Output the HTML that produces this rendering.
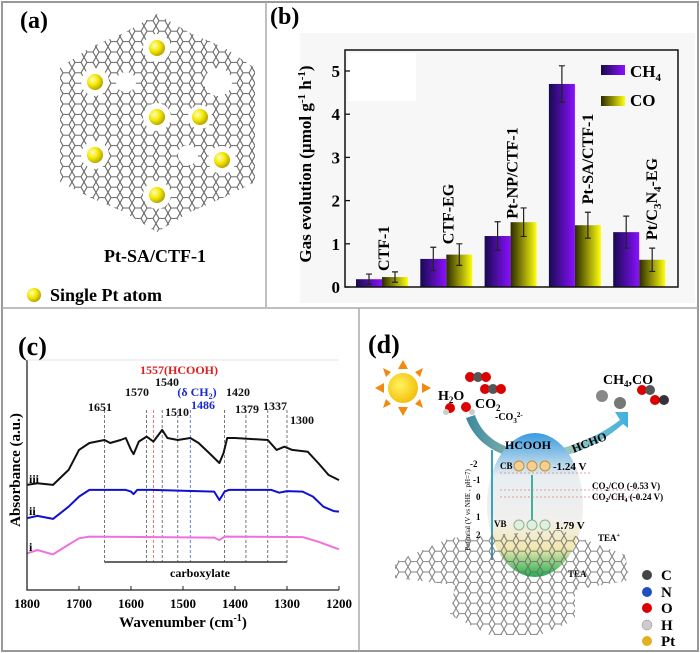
<!DOCTYPE html>
<html><head><meta charset="utf-8">
<style>
body{margin:0;background:#fff;}
svg{display:block;font-family:"Liberation Serif",serif;}
</style></head>
<body>
<svg id="fig" width="700" height="653" viewBox="0 0 700 653">
<defs>
  <pattern id="hexpat" width="12" height="10.4" patternUnits="userSpaceOnUse">
    <path d="M3,0 L9,0 L12,5.2 L9,10.4 L3,10.4 L0,5.2 Z" fill="none" stroke="#666" stroke-width="1.1"/>
  </pattern>
  <radialGradient id="ptball" cx="0.35" cy="0.35" r="0.7">
    <stop offset="0" stop-color="#ffffc0"/><stop offset="0.5" stop-color="#f5e800"/><stop offset="1" stop-color="#b0a000"/>
  </radialGradient>
  <linearGradient id="gCH4" x1="0" x2="1" y1="0" y2="0">
    <stop offset="0" stop-color="#160a50"/><stop offset="1" stop-color="#8a10ff"/>
  </linearGradient>
  <linearGradient id="gCO" x1="0" x2="1" y1="0" y2="0">
    <stop offset="0" stop-color="#2a2a00"/><stop offset="1" stop-color="#ffff10"/>
  </linearGradient>
  <linearGradient id="gEll" x1="0" x2="0" y1="0" y2="1">
    <stop offset="0" stop-color="#3a9be0"/><stop offset="0.3" stop-color="#e8eef0"/><stop offset="0.6" stop-color="#f0f0ee"/><stop offset="0.8" stop-color="#f3e8b0"/><stop offset="1" stop-color="#20b050"/>
  </linearGradient>
  <linearGradient id="gArrow" x1="0" x2="1"><stop offset="0" stop-color="#3a88a0"/><stop offset="0.5" stop-color="#b8d0b0"/><stop offset="1" stop-color="#40b0e0"/></linearGradient>
  <radialGradient id="sunG" cx="0.4" cy="0.4" r="0.7"><stop offset="0" stop-color="#fff460"/><stop offset="1" stop-color="#f2b800"/></radialGradient>
</defs>

<rect x="2" y="2" width="696" height="649" fill="none" stroke="#999" stroke-width="2"/>
<line x1="266" y1="2" x2="266" y2="307" stroke="#aaa" stroke-width="1.5"/>
<line x1="2" y1="308" x2="698" y2="308" stroke="#aaa" stroke-width="1.5"/>
<line x1="359" y1="308" x2="359" y2="651" stroke="#aaa" stroke-width="1.5"/>

<!-- PANEL A -->
<g>
  <text x="20" y="28" font-size="24" font-weight="bold">(a)</text>
  <polygon points="157,14 190,33 225,48 255,68 255,182 225,197 190,212 157,232 124,212 89,197 60,182 60,68 89,48 124,33" fill="url(#hexpat)"/>
  <g fill="#fff">
    <circle cx="157" cy="48" r="14"/><circle cx="95" cy="82" r="14"/><circle cx="218" cy="82" r="14"/>
    <circle cx="157" cy="117" r="14"/><circle cx="200" cy="117" r="12"/><circle cx="95" cy="155" r="14"/>
    <circle cx="222" cy="160" r="14"/><circle cx="157" cy="195" r="14"/><circle cx="126" cy="82" r="10"/><circle cx="188" cy="155" r="10"/>
    <polygon points="60,68 89,48 60,48"/><polygon points="255,68 225,48 255,48"/><polygon points="60,182 89,197 60,210"/><polygon points="255,182 225,197 255,210"/>
  </g>
  <g fill="url(#ptball)">
    <circle cx="157" cy="48" r="8"/><circle cx="95" cy="82" r="8"/><circle cx="157" cy="117" r="8"/>
    <circle cx="200" cy="117" r="8"/><circle cx="95" cy="155" r="8"/><circle cx="222" cy="160" r="8"/><circle cx="157" cy="195" r="8"/>
  </g>
  <text x="155" y="262" font-size="18" font-weight="bold" text-anchor="middle">Pt-SA/CTF-1</text>
  <circle cx="34" cy="295" r="7" fill="url(#ptball)"/>
  <text x="50" y="301" font-size="18" font-weight="bold">Single Pt atom</text>
</g>

<g id="panelB">
  <text x="270" y="24" font-size="24" font-weight="bold">(b)</text>
</g>

<g id="panelC">
  <text x="18" y="355" font-size="26" font-weight="bold">(c)</text>
</g>

<!-- PANEL D -->
<g>
  <text x="368" y="353" font-size="26" font-weight="bold">(d)</text>
  <g>
    <g fill="#f08a10">
      <polygon points="403,360 398,369 408,369"/><polygon points="403,416 398,407 408,407"/>
      <polygon points="375,388 384,383 384,393"/><polygon points="431,388 422,383 422,393"/>
      <polygon points="383,368 391,372 386,377"/><polygon points="423,368 415,372 420,377"/>
      <polygon points="383,408 391,404 386,399"/><polygon points="423,408 415,404 420,399"/>
    </g>
    <circle cx="403" cy="388" r="15" fill="url(#sunG)"/>
  </g>
  <g>
    <circle cx="470" cy="377" r="5" fill="#d00"/><circle cx="478" cy="377" r="5" fill="#555"/><circle cx="486" cy="377" r="5" fill="#d00"/>
    <circle cx="485" cy="389" r="5" fill="#d00"/><circle cx="493" cy="389" r="5" fill="#555"/><circle cx="501" cy="389" r="5" fill="#d00"/>
    <circle cx="450" cy="408" r="5" fill="#d00"/><circle cx="466" cy="407" r="5" fill="#d00"/><circle cx="446" cy="412" r="3" fill="#ccc"/><circle cx="472" cy="412" r="3" fill="#ccc"/>
  </g>
  <text x="438" y="400" font-size="14" font-weight="bold">H<tspan font-size="9" dy="3">2</tspan><tspan dy="-3">O</tspan></text>
  <text x="475" y="408" font-size="14" font-weight="bold">CO<tspan font-size="9" dy="3">2</tspan></text>
  <text x="603" y="384" font-size="14" font-weight="bold">CH<tspan font-size="9" dy="3">4</tspan><tspan dy="-3">,CO</tspan></text>
  <g>
    <circle cx="602" cy="396" r="6" fill="#888"/><circle cx="620" cy="403" r="6" fill="#777"/>
    <circle cx="642" cy="390" r="5" fill="#d00"/><circle cx="650" cy="390" r="5" fill="#555"/>
    <circle cx="655" cy="400" r="5" fill="#d00"/><circle cx="664" cy="400" r="5" fill="#333"/>
  </g>
  <path d="M475,415 C490,460 560,465 620,420 L615,412 L628,412 L628,428 L623,424 C565,475 485,470 466,418 Z" fill="url(#gArrow)"/>
  <text x="495" y="420" font-size="10" font-weight="bold">-CO<tspan font-size="7" dy="3">3</tspan><tspan font-size="7" dy="-6">2-</tspan></text>
  <ellipse cx="535" cy="505" rx="48" ry="72" fill="url(#gEll)"/>
  <text x="505" y="449" font-size="12" font-weight="bold">HCOOH</text>
  <text x="570" y="446" font-size="12" font-weight="bold" transform="rotate(-22 590 440)">HCHO</text>
  <line x1="492" y1="450" x2="492" y2="560" stroke="#40a0c0" stroke-width="2"/>
  <line x1="532" y1="475" x2="532" y2="520" stroke="#40b0a0" stroke-width="2"/>
  <g font-size="9" font-weight="bold">
    <text x="470" y="467">-2</text><text x="473" y="483">-1</text><text x="476" y="500">0</text><text x="476" y="520">1</text><text x="476" y="538">2</text>
  </g>
  <text x="470" y="510" font-size="7" transform="rotate(-90 470 510)" text-anchor="middle">Potential (V vs NHE , pH=7)</text>
  <text x="500" y="469" font-size="9" font-weight="bold">CB</text>
  <g fill="#f5d090" stroke="#c09040"><circle cx="519" cy="466" r="5"/><circle cx="532" cy="466" r="5"/><circle cx="545" cy="466" r="5"/></g>
  <text x="553" y="470" font-size="11" font-weight="bold">-1.24 V</text>
  <line x1="500" y1="473" x2="590" y2="473" stroke="#e08080" stroke-dasharray="2 2" stroke-width="0.8"/>
  <line x1="500" y1="490" x2="640" y2="490" stroke="#e08080" stroke-dasharray="2 2" stroke-width="0.8"/>
  <line x1="500" y1="497" x2="640" y2="497" stroke="#e08080" stroke-dasharray="2 2" stroke-width="0.8"/>
  <text x="592" y="489" font-size="9" font-weight="bold">CO<tspan font-size="6" dy="2">2</tspan><tspan dy="-2">/CO (-0.53  V)</tspan></text>
  <text x="592" y="500" font-size="9" font-weight="bold">CO<tspan font-size="6" dy="2">2</tspan><tspan dy="-2">/CH</tspan><tspan font-size="6" dy="2">4</tspan><tspan dy="-2"> (-0.24 V)</tspan></text>
  <text x="494" y="527" font-size="9" font-weight="bold">VB</text>
  <g fill="#e0f0e0" stroke="#90b090"><circle cx="519" cy="525" r="5"/><circle cx="532" cy="525" r="5"/><circle cx="545" cy="525" r="5"/></g>
  <text x="555" y="529" font-size="11" font-weight="bold">1.79 V</text>
  <text x="598" y="541" font-size="9" font-weight="bold">TEA<tspan font-size="6" dy="-4">+</tspan></text>
  <text x="568" y="577" font-size="9" font-weight="bold">TEA</text>
  <polygon points="395,562 450,538 560,530 625,555 630,580 575,590 575,620 540,635 490,635 450,615 455,585 395,578" fill="url(#hexpat)" opacity="0.8"/>
  <g font-size="15" font-weight="bold">
    <circle cx="647" cy="575" r="5" fill="#444"/><text x="661" y="580">C</text>
    <circle cx="647" cy="592" r="5" fill="#2050c0"/><text x="661" y="597">N</text>
    <circle cx="647" cy="608" r="5" fill="#d00"/><text x="661" y="613">O</text>
    <circle cx="647" cy="625" r="5" fill="#ccc" stroke="#888" stroke-width="0.5"/><text x="661" y="630">H</text>
    <circle cx="647" cy="641" r="5" fill="#e0b020"/><text x="661" y="646">Pt</text>
  </g>
</g>
</svg>

<script>
const bCategories = ["CTF-1", "CTF-EG", "Pt-NP/CTF-1", "Pt-SA/CTF-1", "Pt/C3N4-EG"];
const ch4Values = [0.18, 0.65, 1.18, 4.70, 1.27];
const coValues = [0.23, 0.75, 1.50, 1.43, 0.63];
const ch4Errors = [0.12, 0.27, 0.33, 0.42, 0.37];
const coErrors = [0.12, 0.25, 0.33, 0.30, 0.27];
const bTicks = [0, 1, 2, 3, 4, 5];

const irTicks = [1800, 1700, 1600, 1500, 1400, 1300, 1200];
const waveIII = [1800,1780,1750,1720,1700,1680,1651,1640,1620,1610,1600,1595,1585,1570,1557,1540,1530,1510,1486,1470,1450,1430,1422,1415,1400,1337,1320,1305,1290,1260,1240,1220,1200];
const absIII = [0.457,0.464,0.457,0.522,0.609,0.639,0.652,0.639,0.652,0.661,0.609,0.591,0.645,0.667,0.645,0.696,0.661,0.652,0.661,0.639,0.596,0.552,0.596,0.661,0.661,0.652,0.609,0.623,0.609,0.601,0.552,0.5,0.478];
const waveII = [1800,1780,1750,1720,1700,1680,1610,1600,1595,1588,1560,1440,1430,1420,1412,1330,1315,1300,1270,1250,1230,1210,1200];
const absII = [0.312,0.322,0.309,0.362,0.406,0.435,0.435,0.428,0.417,0.435,0.435,0.428,0.391,0.428,0.435,0.435,0.423,0.43,0.428,0.406,0.362,0.343,0.341];
const waveI = [1800,1780,1750,1730,1700,1680,1440,1430,1420,1270,1240,1200];
const absI = [0.159,0.174,0.155,0.183,0.225,0.232,0.228,0.217,0.232,0.23,0.21,0.177];
const peakWaves = [1651, 1570, 1557, 1540, 1510, 1486, 1420, 1379, 1337, 1300];
const peakLabels = ["1651", "1570", "", "1540", "1510", "1486", "1420", "1379", "1337", "1300"];

const NS = "http://www.w3.org/2000/svg";
function mk(parent, tag, attrs, text) {
  const e = document.createElementNS(NS, tag);
  for (const k in attrs) e.setAttribute(k, attrs[k]);
  if (text !== undefined) e.textContent = text;
  parent.appendChild(e);
  return e;
}

(function () {
  const g = document.getElementById("panelB");
  const X0 = 345, X1 = 678, Ytop = 50, Ybot = 287;
  const yS = v => Ybot - v * 43.2;
  const groupX = i => 356 + i * 64.3;
  const bw = 26;
  mk(g, "rect", { x: 300, y: 33, width: 395, height: 270, fill: "#f7f7f7" });
  mk(g, "rect", { x: 348, y: 53, width: 68, height: 48, fill: "#fff" });
  bCategories.forEach((c, i) => {
    const x = groupX(i);
    const r1 = mk(g, "rect", { x: x, y: yS(ch4Values[i]), width: bw, height: Ybot - yS(ch4Values[i]), fill: "url(#gCH4)" });
    
    
    const r2 = mk(g, "rect", { x: x + bw, y: yS(coValues[i]), width: bw, height: Ybot - yS(coValues[i]), fill: "url(#gCO)" });
    
    
    [[ch4Values[i], ch4Errors[i], x + bw / 2], [coValues[i], coErrors[i], x + bw * 1.5]].forEach(([v, e, cx]) => {
      const eb = mk(g, "path", { d: `M${cx},${yS(v + e)}V${yS(v - e)}M${cx - 3},${yS(v + e)}H${cx + 3}M${cx - 3},${yS(v - e)}H${cx + 3}`, stroke: "#222", "stroke-width": 1.2, fill: "none" });
      
      
    });
    const chTop = ch4Values[i] + ch4Errors[i], coTop = coValues[i] + coErrors[i];
    let lx, ly;
    if (chTop > coTop + 0.5) { lx = x + bw + 18; ly = yS(coTop) - 8; }
    else { lx = x + bw + 7; ly = yS(chTop) - 3; }
    const t = mk(g, "text", { x: lx, y: ly, "font-size": 16, "font-weight": "bold", transform: `rotate(-90 ${lx} ${ly})` });
    
    
    if (c === "Pt/C3N4-EG") {
      t.innerHTML = 'Pt/C<tspan font-size="11" dy="4">3</tspan><tspan dy="-4">N</tspan><tspan font-size="11" dy="4">4</tspan><tspan dy="-4">-EG</tspan>';
    } else t.textContent = c;
  });
  const ax = mk(g, "rect", { x: X0, y: Ytop, width: X1 - X0, height: Ybot - Ytop, fill: "none", stroke: "#111", "stroke-width": 1.5 });
  
  
  bTicks.forEach(v => {
    mk(g, "line", { x1: X0, x2: X0 + 5, y1: yS(v), y2: yS(v), stroke: "#111", "stroke-width": 1.3 });
    const tl = mk(g, "text", { x: X0 - 5, y: yS(v) + 6, "font-size": 17, "font-weight": "bold", "text-anchor": "end" }, String(v));
    
    
  });
  const yt = mk(g, "text", { x: 311, y: 164, "font-size": 17, "font-weight": "bold", "text-anchor": "middle", transform: "rotate(-90 311 164)" });
  yt.innerHTML = 'Gas evolution (µmol g<tspan font-size="11" dy="-6">-1</tspan><tspan dy="6"> h</tspan><tspan font-size="11" dy="-6">-1</tspan><tspan dy="6">)</tspan>';
  
  
  const l1 = mk(g, "rect", { x: 601, y: 65, width: 24, height: 10, fill: "url(#gCH4)" });
  
  
  const lt1 = mk(g, "text", { x: 630, y: 77, "font-size": 17, "font-weight": "bold" });
  lt1.innerHTML = 'CH<tspan font-size="11" dy="4">4</tspan>';
  
  
  const l2 = mk(g, "rect", { x: 601, y: 96, width: 24, height: 10, fill: "url(#gCO)" });
  
  
  const lt2 = mk(g, "text", { x: 630, y: 106, "font-size": 17, "font-weight": "bold" }, "CO");
  
  
})();

(function () {
  const g = document.getElementById("panelC");
  const X0 = 27, X1 = 339, Ytop = 360, Ybot = 590;
  const xS = w => X0 + (1800 - w) / 600 * (X1 - X0);
  const yS = v => Ybot - v * 230;
  const line = (ws, vs, color, name) => {
    const d = ws.map((w, i) => (i ? "L" : "M") + xS(w).toFixed(1) + "," + yS(vs[i]).toFixed(1)).join("");
    const p = mk(g, "path", { d: d, fill: "none", stroke: color, "stroke-width": 2, "stroke-linejoin": "round" });
    
    
  };
  const ly = 562;
  peakWaves.forEach((w) => {
    const col = w === 1557 ? "#e05050" : (w === 1486 ? "#4060e0" : "#555");
    mk(g, "line", { x1: xS(w), x2: xS(w), y1: 410, y2: ly, stroke: col, "stroke-width": 0.8, "stroke-dasharray": "3 2" });
  });
  line(waveIII, absIII, "#111", "spectrum-iii");
  line(waveII, absII, "#1010d0", "spectrum-ii");
  line(waveI, absI, "#f070e0", "spectrum-i");
  const br = mk(g, "line", { x1: xS(1651), x2: xS(1300), y1: ly, y2: ly, stroke: "#333", "stroke-width": 1.5 });
  
  
  const ct = mk(g, "text", { x: 200, y: 577, "font-size": 12, "font-weight": "bold", "text-anchor": "middle" }, "carboxylate");
  
  
  const pos = { "1651": [100, 411], "1570": [137, 396], "1540": [167, 386], "1510": [177, 416], "1486": [203, 409], "1420": [238, 396], "1379": [247, 413], "1337": [275, 410], "1300": [302, 424] };
  peakLabels.forEach(s => {
    if (!s) return;
    const p = pos[s];
    const t = mk(g, "text", { x: p[0], y: p[1], "font-size": 12, "font-weight": "bold", "text-anchor": "middle", fill: s === "1486" ? "#1a2ad0" : "#111" }, s);
    
    
  });
  const h = mk(g, "text", { x: 179, y: 374, "font-size": 12, "font-weight": "bold", "text-anchor": "middle", fill: "#e02020" }, "1557(HCOOH)");
  
  
  const dc = mk(g, "text", { x: 197, y: 396, "font-size": 12, "font-weight": "bold", "text-anchor": "middle", fill: "#1a2ad0" });
  dc.innerHTML = '(δ CH<tspan font-size="8" dy="3">2</tspan><tspan dy="-3">)</tspan>';
  
  
  [["iii", 483], ["ii", 515], ["i", 551]].forEach(([s, y]) => {
    const t = mk(g, "text", { x: 29, y: y, "font-size": 12, "font-weight": "bold" }, s);
    
    
  });
  mk(g, "polyline", { points: `${X0},${Ytop} ${X0},${Ybot} ${X1},${Ybot}`, fill: "none", stroke: "#222", "stroke-width": 1.3 });
  mk(g, "line", { x1: X0, x2: X1, y1: Ytop, y2: Ytop, stroke: "#ddd", "stroke-width": 0.8 });
  irTicks.forEach(w => {
    mk(g, "line", { x1: xS(w), x2: xS(w), y1: Ybot, y2: Ybot - 4, stroke: "#222" });
    const t = mk(g, "text", { x: xS(w), y: 608, "font-size": 13, "font-weight": "bold", "text-anchor": "middle" }, String(w));
    
    
  });
  const xt = mk(g, "text", { x: 183, y: 627, "font-size": 15, "font-weight": "bold", "text-anchor": "middle" });
  xt.innerHTML = 'Wavenumber (cm<tspan font-size="10" dy="-6">-1</tspan><tspan dy="6">)</tspan>';
  
  
  const yt = mk(g, "text", { x: 20, y: 470, "font-size": 15, "font-weight": "bold", "text-anchor": "middle", transform: "rotate(-90 20 470)" }, "Absorbance (a.u.)");
  
  
})();
</script>
</body></html>
